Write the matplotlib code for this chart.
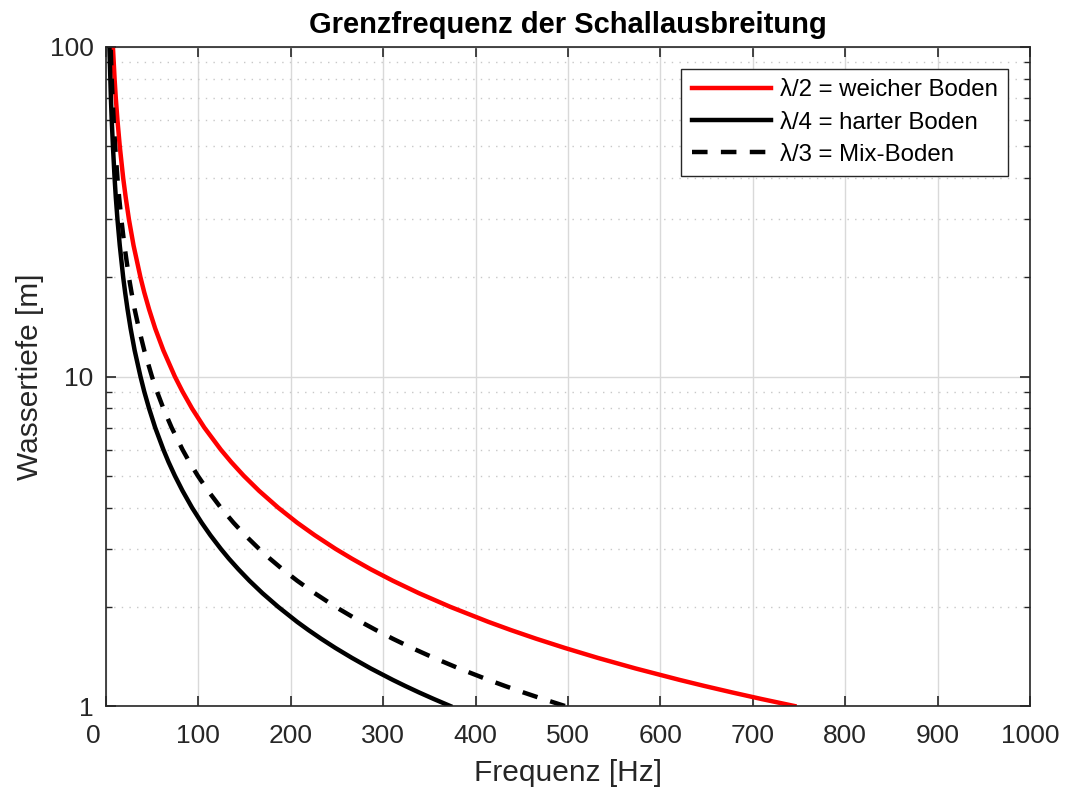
import matplotlib
matplotlib.use("Agg")
import matplotlib.pyplot as plt
from matplotlib.ticker import LogLocator, NullFormatter, FixedLocator
from matplotlib.transforms import ScaledTranslation

# Wassertiefe [m]
depth = [1, 1.05, 1.1, 1.15, 1.2, 1.3, 1.4, 1.5, 1.6, 1.7, 1.8, 2, 2.2, 2.4,
         2.6, 2.8, 3, 3.3, 3.6, 4, 4.5, 5, 5.5, 6, 7, 8, 9, 10, 12, 14, 16, 18,
         20, 25, 30, 35, 40, 50, 60, 70, 80, 100]

# Grenzfrequenz [Hz] per curve
f_half = [745, 709.5, 677.3, 647.8, 620.8, 573.1, 532.1, 496.7, 465.6, 438.2,
          413.9, 372.5, 338.6, 310.4, 286.5, 266.1, 248.3, 225.8, 206.9, 186.3,
          165.6, 149, 135.5, 124.2, 106.4, 93.1, 82.8, 74.5, 62.1, 53.2, 46.6,
          41.4, 37.3, 29.8, 24.8, 21.3, 18.6, 14.9, 12.4, 10.6, 9.3, 7.5]
f_quarter = [372.5, 354.8, 338.6, 323.9, 310.4, 286.5, 266.1, 248.3, 232.8,
             219.1, 206.9, 186.3, 169.3, 155.2, 143.3, 133.0, 124.2, 112.9,
             103.5, 93.1, 82.8, 74.5, 67.7, 62.1, 53.2, 46.6, 41.4, 37.3, 31.0,
             26.6, 23.3, 20.7, 18.6, 14.9, 12.4, 10.6, 9.3, 7.5, 6.2, 5.3, 4.7,
             3.7]
f_third = [496.7, 473, 451.5, 431.9, 413.9, 382.1, 354.8, 331.1, 310.4, 292.2,
           275.9, 248.3, 225.8, 206.9, 191.0, 177.4, 165.6, 150.5, 138.0, 124.2,
           110.4, 99.3, 90.3, 82.8, 71.0, 62.1, 55.2, 49.7, 41.4, 35.5, 31.0,
           27.6, 24.8, 19.9, 16.6, 14.2, 12.4, 9.9, 8.3, 7.1, 6.2, 5.0]

labels = ["λ/2 = weicher Boden", "λ/4 = harter Boden", "λ/3 = Mix-Boden"]

plt.rcParams["font.family"] = ["Liberation Sans", "DejaVu Sans"]
ax_color = "#262626"

fig = plt.figure(figsize=(10.67, 7.89), dpi=100)
ax = fig.add_axes([106 / 1067, 1 - 706 / 789, 924 / 1067, 659 / 789])

ax.plot(f_half, depth, color="red", lw=3.2, label=labels[0])
ax.plot(f_quarter, depth, color="black", lw=3.2, label=labels[1])
ax.plot(f_third, depth, color="black", lw=3.2, ls=(0, (3.5, 3)), label=labels[2])

ax.set_yscale("log")
ax.set_xlim(0, 1000)
ax.set_ylim(1, 100)
ax.xaxis.set_major_locator(FixedLocator(range(0, 1001, 100)))
ax.yaxis.set_major_locator(FixedLocator([1, 10, 100]))
ax.set_yticklabels(["1", "10", "100"])
ax.yaxis.set_minor_locator(LogLocator(base=10, subs=range(2, 10)))
ax.yaxis.set_minor_formatter(NullFormatter())

ax.grid(True, which="major", color="#d9d9d9", lw=1, ls="-")
ax.grid(True, which="minor", axis="y", color="#c8c8c8", lw=1, ls=(0, (1, 4.5)))
ax.set_axisbelow(True)

ax.tick_params(which="both", direction="in", top=True, right=True,
               color=ax_color, labelcolor=ax_color, labelsize=19)
ax.tick_params(which="major", length=7, width=1.2)
ax.tick_params(which="minor", length=4, width=1)
ax.tick_params(axis="x", which="major", pad=13)
ax.tick_params(axis="y", which="major", pad=9)
for s in ax.spines.values():
    s.set_color(ax_color)
    s.set_linewidth(1.2)

fig.canvas.draw()
# the "0" label sits a bit left of its tick, like in the original
ax.get_xticklabels()[0].set_transform(
    ax.get_xticklabels()[0].get_transform()
    + ScaledTranslation(-13 / 100, 0, fig.dpi_scale_trans))

ax.set_xlabel("Frequenz [Hz]", fontsize=21.5, color=ax_color, labelpad=8)
ax.set_ylabel("Wassertiefe [m]", fontsize=21.5, color=ax_color, labelpad=4)
ax.set_title("Grenzfrequenz der Schallausbreitung", fontsize=21,
             fontweight="bold", pad=10)

leg = ax.legend(loc="upper right", fontsize=17.3, frameon=True, fancybox=False,
                edgecolor=ax_color, framealpha=1, handlelength=3.3,
                borderaxespad=0.9, labelspacing=0.42, handletextpad=0.35,
                borderpad=0.45)
leg.get_frame().set_linewidth(1)

fig.savefig("out.png", dpi=100)
